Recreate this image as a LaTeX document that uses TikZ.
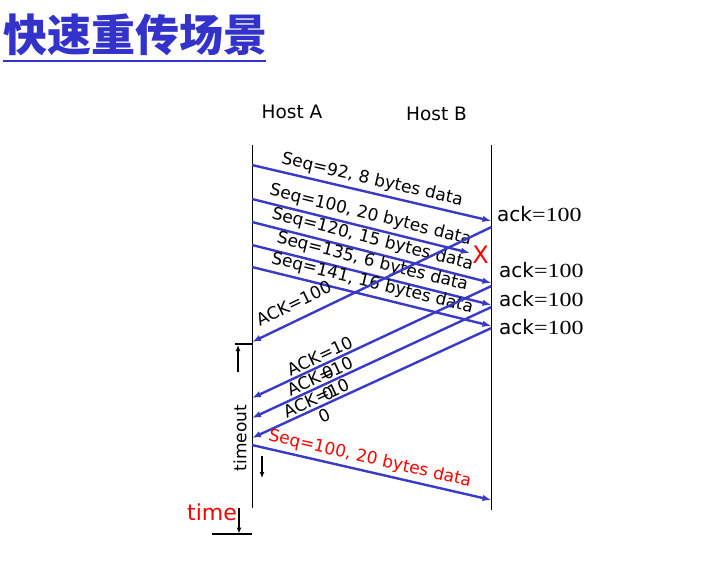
\documentclass[tikz,border=0pt]{standalone}
\usepackage{fontspec}
\setmainfont{DejaVu Sans}
\newfontfamily\titleFont{Noto Sans CJK SC}
\newfontfamily\numberFont{Liberation Serif}[FakeStretch=1.2]
\usetikzlibrary{arrows.meta}
\definecolor{segColor}{RGB}{58,58,200}
\definecolor{titleColor}{RGB}{51,51,204}
\tikzstyle{diagram} = [x = 1pt, y = -1pt]
\tikzstyle{hostLine} = [color=black, line width=0.9pt]
\tikzstyle{segArrow} = [color=segColor, line width=2.4pt, -{Latex[length=9pt, width=6.5pt]}]
\tikzstyle{segText} = [font=\fontsize{17}{19}\selectfont, sloped, black]
\tikzstyle{hostText} = [font=\fontsize{18.5}{22}\selectfont]
\tikzstyle{ackText} = [font=\fontsize{20}{24}\selectfont, anchor=base west, inner sep=0]
\tikzstyle{timeArrow} = [color=black, line width=1.3pt, -{Latex[length=6pt, width=5pt]}]
\tikzstyle{timeTick} = [color=black, line width=1.8pt]
\newcommand{\dataSegment}[4]{\draw [segArrow] (#1) -- (#2) node [segText, pos=#3, above] {#4};}
\newcommand{\ackSegment}[4]{\draw [segArrow] (#1) -- (#2) node [segText, pos=#3, align=center] {#4};}
\newcommand{\ackLabel}[2]{\node [ackText] (#1) at (#2) {ack{\numberFont=100}};}

\begin{document}
\begin{tikzpicture}[diagram]
  \useasboundingbox (0,0) rectangle (712,586);

  % title
  \node [font=\fontsize{44}{48}\selectfont\titleFont\bfseries, text=titleColor, anchor=base west, inner sep=0] (title) at (3,52) {快速重传场景};
  \draw [color=titleColor, line width=2pt] (title.south west |- 0,61) -- (266,61);

  % hosts
  \node [hostText] (hostA) at (292,112) {Host A};
  \node [hostText] (hostB) at (436.5,114) {Host B};
  \draw [hostLine] (252,145) coordinate (topA) -- (252,508) coordinate (bottomA);
  \draw [hostLine] (491.5,145) coordinate (topB) -- (491.5,510) coordinate (bottomB);

  % end points on the host lines
  \foreach \name/\y in {sA1/165, sA2/199, sA3/222, sA4/245, sA5/267,
                        kA1/342, kA2/398, kA3/418, kA4/438, rA/445}
    \coordinate (\name) at (252,\y);
  \foreach \name/\y in {sB1/221, sB3/283, sB4/305, sB5/326,
                        kB1/227, kB2/286, kB3/307, kB4/328, rB/500}
    \coordinate (\name) at (491.5,\y);
  \coordinate (lost) at (470,253);

  % segments from A
  \dataSegment{sA1}{sB1}{0.49}{Seq=92, 8 bytes data}
  \dataSegment{sA2}{lost}{0.53}{Seq=100, 20 bytes data}
  \dataSegment{sA3}{sB3}{0.49}{Seq=120, 15 bytes data}
  \dataSegment{sA4}{sB4}{0.49}{Seq=135, 6 bytes data}
  \dataSegment{sA5}{sB5}{0.49}{Seq=141, 16 bytes data}
  \node [text=red, font=\fontsize{24}{28}\selectfont] (lossMark) at (480.5,255) {X};

  % acks from B
  \draw [segArrow] (kB1) -- (kA1) node [segText, pos=0.795, above=6pt] {ACK=100};
  \ackSegment{kB2}{kA2}{0.70}{ACK=10\\0}
  \ackSegment{kB3}{kA3}{0.70}{ACK=10\\0}
  \ackSegment{kB4}{kA4}{0.715}{ACK=10\\0}
  \ackLabel{ack1}{497,221}
  \ackLabel{ack2}{499,277}
  \ackLabel{ack3}{499,306}
  \ackLabel{ack4}{499,334}

  % retransmission
  \draw [segArrow] (rA) -- (rB) node [segText, pos=0.48, above, text=red] {Seq=100, 20 bytes data};

  % timeout and time
  \draw [timeTick] (235,344) -- (252,344);
  \draw [timeArrow] (238,372) -- (238,345);
  \draw [timeArrow] (262,456) -- (262,478);
  \node [font=\fontsize{17}{20}\selectfont, rotate=90] (timeout) at (240,438) {timeout};
  \draw [timeArrow] (239,508) -- (239,533.5);
  \draw [timeTick] (212,534) -- (252,534);
  \node [font=\fontsize{22}{26}\selectfont, text=red] (time) at (212,512) {time};
\end{tikzpicture}
\end{document}
